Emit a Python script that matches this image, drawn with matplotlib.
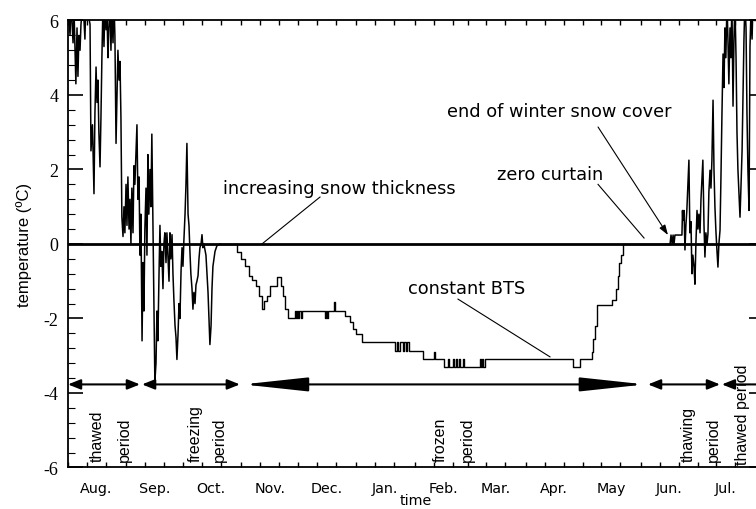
import numpy as np
import matplotlib
matplotlib.use("Agg")
import matplotlib.pyplot as plt
from matplotlib.ticker import FixedLocator, MultipleLocator

plt.rcParams['axes.unicode_minus'] = False

# days counted from 1 Aug
month_names = ["Aug.", "Sep.", "Oct.", "Nov.", "Dec.", "Jan.", "Feb.", "Mar.", "Apr.", "May", "Jun.", "Jul."]
month_len = [31, 30, 31, 30, 31, 31, 28, 31, 30, 31, 30, 31]

# late summer / freezing period (noisy part)
aut_day = [0.0, 1.1, 1.6, 2.7, 3.2, 4.2, 4.8, 5.3, 5.8, 6.4,
           6.9, 8.0, 9.0, 9.5, 10.6, 11.7, 12.2, 13.0, 13.8, 14.3,
           14.9, 15.4, 15.9, 16.4, 17.0, 17.5, 18.0, 18.6, 19.1, 19.6,
           20.2, 20.7, 21.2, 21.7, 22.3, 22.8, 23.3, 23.9, 24.4, 24.9,
           25.5, 26.0, 26.5, 27.1, 27.6, 28.1, 28.6, 29.2, 29.7, 30.2,
           30.8, 31.3, 31.8, 32.4, 32.9, 33.4, 33.9, 34.5, 35.0, 35.5,
           36.6, 37.1, 37.7, 38.2, 38.7, 39.3, 39.8, 40.3, 40.8, 41.4,
           41.9, 42.4, 42.9, 43.5, 44.0, 44.5, 45.1, 45.6, 46.1, 46.7,
           47.2, 47.7, 48.3, 48.8, 49.3, 49.8, 50.4, 50.9, 51.4, 52.0,
           52.5, 53.0, 53.6, 54.1, 54.6, 55.2, 55.7, 56.2, 56.8, 57.3,
           57.8, 58.4, 58.9, 59.4, 60.0, 60.5, 61.0, 61.5, 62.1, 62.6,
           63.1, 63.7, 64.2, 64.7, 65.2, 65.8, 66.3, 66.8, 67.4, 67.9,
           68.4, 69.0, 69.5, 70.0, 70.6, 71.1, 71.6, 72.1, 73.2, 74.3,
           74.8, 75.3, 75.9, 76.4, 76.9, 78.0, 79.0, 80.6]
aut_temp = [6.5, 5.6, 6.5, 5.4, 6.3, 4.3, 5.8, 4.5, 5.6, 5.2,
            5.9, 6.5, 5.5, 6.5, 6.2, 5.9, 2.5, 3.2, 1.35, 3.5,
            4.75, 3.8, 4.4, 3.0, 2.07, 3.4, 5.0, 6.5, 5.3, 6.4,
            5.75, 6.3, 5.0, 5.8, 6.5, 5.2, 6.3, 5.4, 6.5, 5.6,
            2.7, 4.0, 5.2, 4.4, 4.9, 3.4, 0.72, 0.2, 1.0, 0.3,
            1.6, 0.5, 1.8, 0.4, 1.2, 0.0, 1.5, 0.3, 2.1, 1.6,
            3.2, 1.2, 1.8, -0.3, 0.8, -2.6, -0.5, -1.8, 0.4, 1.5,
            -0.3, 2.4, 0.8, 2.0, 1.0, 2.95, 0.4, -1.5, -3.7, -3.2,
            -1.8, -2.6, -0.8, 0.5, -0.6, -0.2, -1.2, 0.0, 0.3, -0.5,
            0.3, -0.3, -1.0, 0.3, -0.4, 0.25, -0.8, -1.5, -2.2, -2.5,
            -3.1, -2.4, -1.6, -2.0, -0.7, -0.1, -0.6, 0.1, 0.8, 1.6,
            2.7, 0.8, 0.5, -0.2, -0.8, -1.2, -1.75, -1.3, -1.6, -1.1,
            -1.0, -0.85, -0.4, -0.1, 0.0, 0.25, -0.1, 0.0, -0.3, -1.3,
            -2.0, -2.7, -2.2, -1.2, -0.6, -0.2, -0.05, 0.0]

# winter (logger resolution gives steps)
win_day = [80.6, 89.7, 91.8, 93.9, 96.0, 97.6, 99.7, 101.3, 102.9, 103.9,
           105.6, 107.2, 110.9, 113.0, 114.1, 115.1, 116.7, 120.4, 121.0, 121.6,
           122.2, 122.8, 123.4, 124.0, 136.3, 136.9, 137.5, 138.1, 141.1, 141.9,
           146.9, 149.6, 151.2, 152.8, 156.0, 173.5, 174.3, 175.1, 175.9, 177.5,
           178.3, 179.1, 179.9, 180.7, 188.3, 194.2, 194.9, 199.5, 201.6, 202.2,
           204.0, 204.6, 205.6, 206.2, 207.5, 208.1, 209.4, 210.0, 218.6, 219.2,
           219.8, 220.4, 221.0, 221.6, 267.9, 271.6, 278.0, 278.5, 279.6, 280.6,
           288.6, 290.7, 291.8, 292.3, 293.4, 294.4, 319.4]
win_temp = [0.0, -0.22, -0.40, -0.58, -0.85, -0.98, -1.12, -1.39, -1.74, -1.52,
            -1.39, -1.12, -0.89, -1.12, -1.39, -1.74, -2.0, -1.8, -2.0, -1.8,
            -2.0, -1.8, -2.0, -1.8, -2.0, -1.8, -2.0, -1.8, -1.56, -1.8,
            -1.92, -2.10, -2.28, -2.42, -2.64, -2.86, -2.64, -2.86, -2.64, -2.86,
            -2.64, -2.86, -2.64, -2.86, -3.09, -2.9, -3.09, -3.31, -3.1, -3.31,
            -3.1, -3.31, -3.1, -3.31, -3.1, -3.31, -3.1, -3.31, -3.1, -3.31,
            -3.1, -3.31, -3.1, -3.09, -3.31, -3.09, -2.9, -2.55, -2.2, -1.65,
            -1.5, -1.2, -0.85, -0.5, -0.3, 0.0, 0.0]

# thawing / early summer
spr_day = [319.4, 319.9, 320.5, 321.0, 321.5, 322.0, 325.7, 326.0, 326.2, 326.8,
           327.3, 327.8, 328.3, 329.4, 329.9, 330.5, 331.0, 331.5, 332.1, 332.6,
           333.1, 333.7, 334.2, 334.7, 335.3, 335.8, 336.8, 337.4, 337.9, 338.4,
           339.0, 339.5, 340.0, 340.6, 341.1, 341.6, 342.2, 342.7, 343.2, 343.7,
           344.3, 344.8, 345.3, 345.9, 346.4, 346.9, 347.5, 348.0, 348.5, 349.0,
           349.6, 350.1, 350.6, 351.2, 351.7, 352.2, 352.8, 353.3, 353.8, 354.4,
           354.9, 355.4, 356.5, 357.0, 357.6, 358.1, 358.6, 359.1, 359.7, 360.2,
           360.7, 361.3, 361.8, 362.3, 362.9, 363.4, 364.5]
spr_temp = [0.0, 0.24, 0.0, 0.24, 0.0, 0.24, 0.24, 0.9, 0.63, 0.9,
            -0.16, 0.5, 0.9, 2.25, 0.3, 0.6, -0.8, -0.3, -0.6, -1.08,
            0.0, 0.9, 0.4, 0.8, 0.3, 1.2, 2.25, 0.5, -0.35, 0.3,
            0.0, 0.27, 1.4, 1.98, 1.5, 2.25, 3.86, 2.0, 1.0, 0.37,
            -0.2, -0.62, 0.0, 0.37, 1.8, 3.4, 5.1, 4.2, 5.8, 5.0,
            6.5, 5.5, 4.3, 5.8, 5.0, 6.5, 3.7, 5.5, 6.5, 5.0,
            3.0, 2.0, 0.72, 1.5, 2.5, 4.0, 5.5, 6.5, 5.8, 3.5,
            2.0, 0.9, 5.3, 6.2, 5.5, 6.5, 6.0]

# period arrows (start, end) in days
periods = [(0.0, 38.2), (39.3, 91.2), (92.8, 306.1), (307.7, 345.9), (346.9, 385.0)]
period_y = -3.77

fig = plt.figure(figsize=(7.56, 5.10), dpi=100)
ax = fig.add_axes([0.0899, 0.0814, 0.9206, 0.8765])
ax.set_xlim(0, 369.2)
ax.set_ylim(-6, 6)

ax.axhline(0, color='k', lw=2.0)
ax.plot(aut_day, aut_temp, color='k', lw=1.1)
ax.plot(win_day, win_temp, color='k', lw=1.0, drawstyle='steps-post')
ax.plot(spr_day, spr_temp, color='k', lw=1.1)

# period arrows
for i, (x0, x1) in enumerate(periods):
    if i == 2:
        style = '<|-|>,head_length=4.0,head_width=0.43'
    else:
        style = '<|-|>,head_length=0.75,head_width=0.3'
    ax.annotate('', xy=(x1, period_y), xytext=(x0, period_y),
                arrowprops=dict(arrowstyle=style, color='k', lw=1.5,
                                mutation_scale=10, shrinkA=0, shrinkB=0),
                annotation_clip=False)

# period labels
lab_font = dict(family='Liberation Sans', fontsize=11.5, rotation=90,
                ha='center', va='bottom')
ax.text(15.4, -5.83, "thawed", **lab_font)
ax.text(30.2, -5.83, "period", **lab_font)
ax.text(67.4, -5.83, "freezing", **lab_font)
ax.text(80.6, -5.83, "period", **lab_font)
ax.text(197.3, -5.83, "frozen", **lab_font)
ax.text(211.7, -5.83, "period", **lab_font)
ax.text(328.9, -5.83, "thawing", **lab_font)
ax.text(342.2, -5.83, "period", **lab_font)
ax.text(357.6, -5.9, "thawed period", **lab_font)

# annotations
ann_font = dict(family='DejaVu Sans', fontsize=12.8, ha='left', va='baseline')
ax.text(82.2, 1.37, "increasing snow thickness", **ann_font)
ax.plot([133.7, 102.9], [1.26, 0.0], color='k', lw=0.8)
ax.text(227.6, 1.74, "zero curtain", **ann_font)
ax.plot([281.2, 305.6], [1.6, 0.16], color='k', lw=0.8)
ax.text(201.1, 3.44, "end of winter snow cover", **ann_font)
ax.annotate('', xy=(318.3, 0.24), xytext=(281.2, 3.14),
            arrowprops=dict(arrowstyle='-|>,head_length=0.6,head_width=0.2',
                            color='k', lw=0.8, mutation_scale=10,
                            shrinkA=0, shrinkB=0))
ax.text(180.4, -1.32, "constant BTS", **ann_font)
ax.plot([206.9, 255.7], [-1.48, -3.03], color='k', lw=0.8)

# axes, ticks
starts = np.concatenate([[0], np.cumsum(month_len)[:-1]])
ax.xaxis.set_major_locator(FixedLocator(starts + 15))
ax.set_xticklabels(month_names, family='DejaVu Sans', fontsize=10.3)
ax.xaxis.set_minor_locator(FixedLocator(np.concatenate([starts, starts + 10, starts + 20])))
ax.yaxis.set_minor_locator(MultipleLocator(0.4))
ax.set_yticks([-6, -4, -2, 0, 2, 4, 6])
ax.set_yticklabels(["-6", "-4", "-2", "0", "2", "4", "6"], family='Liberation Serif', fontsize=13)

ax.tick_params(which='both', direction='in', top=True, right=True)
ax.tick_params(axis='x', which='major', length=0, pad=10)
ax.tick_params(axis='x', which='minor', length=3.5, width=1.0)
ax.tick_params(axis='y', which='major', length=10.8, width=1.2, pad=7)
ax.tick_params(axis='y', which='minor', length=5, width=0.8)
for s in ax.spines.values():
    s.set_linewidth(1.3)

ax.set_xlabel("time", family='DejaVu Sans', fontsize=10.3)
ax.xaxis.set_label_coords(0.5, -0.058)
ax.set_ylabel("temperature (ºC)", family='Liberation Sans', fontsize=12)
ax.yaxis.set_label_coords(-0.051, 0.5)

fig.savefig("out.png", dpi=100)
